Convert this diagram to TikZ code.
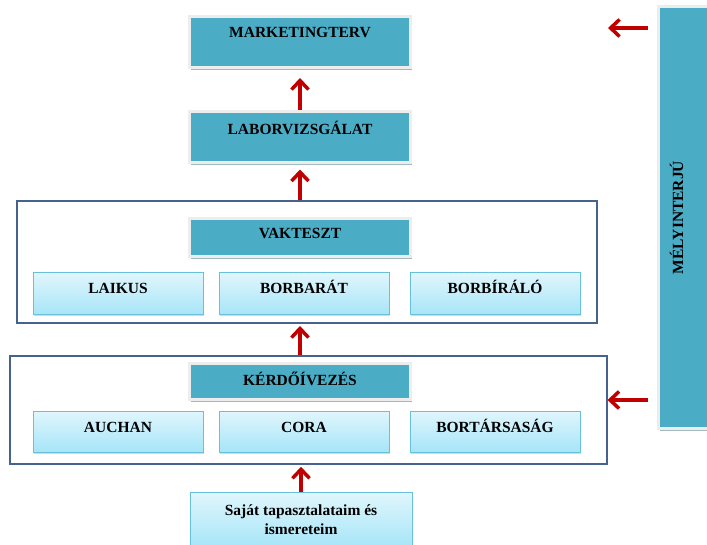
\documentclass[tikz,border=0pt]{standalone}
\usepackage{fontspec}
\setmainfont{Liberation Serif}
\usetikzlibrary{arrows.meta,shadows}
\definecolor{turkiz}{HTML}{4BACC6}
\definecolor{keretkek}{HTML}{46638F}
\definecolor{halvany}{HTML}{A6E5F8}
\definecolor{halvanyfent}{HTML}{E0F6FC}
\definecolor{vonal}{HTML}{68C0DA}
\definecolor{piros}{HTML}{C00000}
\begin{document}
\begin{tikzpicture}[x=1pt, y=-1pt,
    every node/.style={font=\fontsize{15.5}{19}\selectfont\bfseries},
    fejlec/.style={rectangle, fill=turkiz, draw=white!93!black, line width=3pt, inner sep=0pt,
      minimum width=221pt, drop shadow={shadow xshift=1pt, shadow yshift=-2.5pt, opacity=0.45, fill=black!40!turkiz}},
    doboz/.style={rectangle, draw=vonal, line width=1pt, top color=halvanyfent, bottom color=halvany,
      inner sep=0pt, minimum width=170pt, drop shadow={shadow xshift=1pt, shadow yshift=-1.5pt, opacity=0.3}},
    keret/.style={rectangle, draw=keretkek, line width=2pt, inner sep=0pt},
    nyil/.style={draw=piros, line width=3.5pt, -{Straight Barb[length=9pt,width=17pt,line width=3.5pt]}}]
      \useasboundingbox (0,0) rectangle (707,545);
      \clip (0,0) rectangle (707,545);

      % Keretek
      \node[keret, minimum width=580pt, minimum height=122pt] (vakkeret) at (307,262) {};
      \node[keret, minimum width=597pt, minimum height=108.5pt] (kerdkeret) at (308,410) {};

      % Felso dobozok
      \node[fejlec, minimum height=51pt, text height=21.5pt, text depth=29.5pt] (mark) at (300,42) {MARKETINGTERV};
      \node[fejlec, minimum height=51pt, text height=23.5pt, text depth=27.5pt] (lab) at (300,137) {LABORVIZSGÁLAT};

      % Vakteszt
      \node[fejlec, minimum height=38pt, text height=20.5pt, text depth=17.5pt] (vak) at (300,237.5) {VAKTESZT};
      \node[doboz, minimum height=42pt, text height=21pt, text depth=21pt] (laikus) at (118,294) {LAIKUS};
      \node[doboz, minimum height=42pt, text height=21pt, text depth=21pt] (borbarat) at (304,294) {BORBARÁT};
      \node[doboz, minimum height=42pt, text height=21pt, text depth=21pt] (borbiralo) at (495,294) {BORBÍRÁLÓ};

      % Kerdoivezes
      \node[fejlec, minimum height=36pt, text height=21.5pt, text depth=14.5pt] (kerd) at (300,381.5) {KÉRDŐÍVEZÉS};
      \node[doboz, minimum height=41pt, text height=21pt, text depth=20pt] (auchan) at (118,431.5) {AUCHAN};
      \node[doboz, minimum height=41pt, text height=21pt, text depth=20pt] (cora) at (304,431.5) {CORA};
      \node[doboz, minimum height=41pt, text height=21pt, text depth=20pt] (bortars) at (495,431.5) {BORTÁRSASÁG};

      % Also doboz
      \node[doboz, minimum width=222pt, minimum height=56pt, align=center] (sajat) at (301,520) {Saját tapasztalataim és\\ismereteim};

      % Melyinterju
      \node[fejlec, rotate=90, minimum width=422pt, minimum height=100pt, text height=24.5pt, text depth=75.5pt] (mely) at (708.5,217.5) {MÉLYINTERJÚ};

      % Nyilak
      \draw[nyil, shorten >=9pt] (lab.north) -- (mark.south);
      \draw[nyil, shorten >=5.5pt] (vakkeret.north -| lab.south) -- (lab.south);
      \draw[nyil, shorten >=2pt] (kerdkeret.north -| lab.south) -- (vakkeret.south -| lab.south);
      \draw[nyil, shorten >=1.5pt] (sajat.north) -- (kerdkeret.south -| sajat.north);

      \coordinate (m1) at (648,28);
      \coordinate (m2) at (608,28);
      \coordinate (m3) at (648,400);
      \draw[nyil] (m1) -- (m2);
      \draw[nyil] (m3) -- (kerdkeret.east |- m3);
    \end{tikzpicture}
\end{document}
